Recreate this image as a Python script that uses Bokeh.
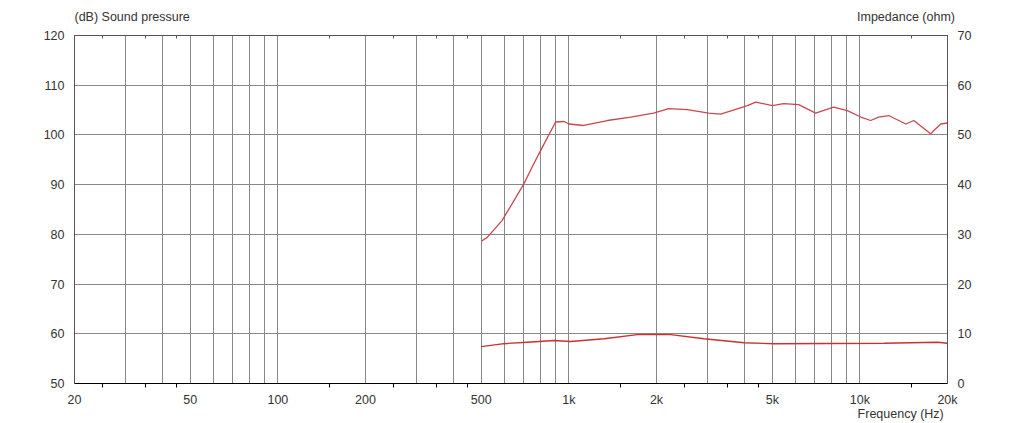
from bokeh.plotting import figure
from bokeh.models import FixedTicker, LogAxis, LinearAxis, Range1d
from bokeh.embed import file_html
from bokeh.resources import INLINE

# sound pressure (dB) vs frequency (Hz)
spl_freq = [500, 524, 590, 701, 750, 800, 900, 962, 1000, 1124, 1356, 1630, 1955, 2203,
            2554, 3021, 3323, 4105, 4386, 5003, 5471, 6162, 7047, 8125, 9055, 10067,
            10890, 11600, 12560, 14380, 15320, 17530, 17950, 18970, 20000]
spl_db = [78.6, 79.4, 82.8, 90.2, 93.7, 96.9, 102.6, 102.7, 102.2, 101.9, 102.9, 103.6,
          104.4, 105.3, 105.1, 104.4, 104.2, 105.9, 106.6, 105.9, 106.3, 106.1, 104.4,
          105.6, 104.9, 103.6, 102.9, 103.6, 103.9, 102.2, 102.9, 100.2, 100.9, 102.2, 102.4]

# impedance (ohm) vs frequency (Hz)
imp_freq = [500, 598, 720, 889, 1014, 1321, 1718, 2000, 2239, 2913, 4000, 5070, 12110, 18490, 20000]
imp_ohm = [7.4, 8.0, 8.3, 8.65, 8.45, 9.0, 9.85, 9.9, 9.85, 9.0, 8.2, 8.0, 8.1, 8.3, 8.1]

grid_ticks = [20, 30, 40, 50, 60, 70, 80, 90,
              100, 200, 300, 400, 500, 600, 700, 800, 900,
              1000, 2000, 3000, 4000, 5000, 6000, 7000, 8000, 9000,
              10000, 20000]
minor_ticks = [25, 35, 45, 150, 250, 350, 450, 1500, 2500, 3500, 4500, 15000]
x_labels = {20: "20", 50: "50", 100: "100", 200: "200", 500: "500", 1000: "1k",
            2000: "2k", 5000: "5k", 10000: "10k", 20000: "20k"}
# unit captions, centred over these frequencies
top_labels = {32: "(dB)  Sound pressure", 14600: "Impedance  (ohm)"}
bottom_labels = {14000: "Frequency  (Hz)"}

FONT = "Liberation Sans"
TXT = "#333333"
GRID = "#888888"
FRAME = "#555555"

p = figure(width=1022, height=423, x_axis_type="log", x_range=(20, 20000), y_range=(50, 120),
           output_backend="svg", toolbar_location=None,
           min_border_left=74, min_border_right=75, min_border_top=35, min_border_bottom=40)
p.extra_y_ranges = {"imp": Range1d(0, 70)}
p.outline_line_color = FRAME
p.background_fill_color = "white"
p.border_fill_color = "white"

ticker = FixedTicker(ticks=grid_ticks, minor_ticks=minor_ticks)
p.xaxis.ticker = ticker
p.xaxis.major_label_overrides = {t: x_labels.get(t, "") for t in grid_ticks}
p.xgrid.ticker = ticker
p.xgrid.grid_line_color = GRID
p.ygrid.grid_line_color = GRID
p.yaxis.ticker = FixedTicker(ticks=list(range(50, 121, 10)))

top = LogAxis(ticker=FixedTicker(ticks=list(top_labels), minor_ticks=minor_ticks),
              major_label_overrides=top_labels)
p.add_layout(top, "above")
right = LinearAxis(y_range_name="imp", ticker=FixedTicker(ticks=list(range(0, 71, 10))))
p.add_layout(right, "right")
caption = LogAxis(ticker=FixedTicker(ticks=list(bottom_labels), minor_ticks=[]),
                  major_label_overrides=bottom_labels, axis_line_color=None)
p.add_layout(caption, "below")

for ax in [p.xaxis[0], top]:
    ax.minor_tick_in = 3
    ax.minor_tick_out = 0
    ax.minor_tick_line_color = FRAME
for ax in p.xaxis + p.yaxis:
    ax.major_tick_in = 0
    ax.major_tick_out = 0
    ax.major_label_text_font = FONT
    ax.major_label_text_font_size = "12.5px"
    ax.major_label_text_color = TXT
for ax in [p.xaxis[0], top] + list(p.yaxis):
    ax.axis_line_color = FRAME
for ax in p.yaxis:
    ax.minor_tick_line_color = None
    ax.major_label_standoff = 10
p.xaxis[0].major_label_standoff = -3
p.xaxis[0].major_label_text_align = "left"
top.major_label_standoff = 12
caption.minor_tick_line_color = None
caption.major_label_standoff = -3

p.line(spl_freq, spl_db, line_color="#c84850", line_width=1.3)
p.line(imp_freq, imp_ohm, y_range_name="imp", line_color="#cc3030", line_width=1.3)

open("out.html", "w").write(file_html(p, INLINE))
